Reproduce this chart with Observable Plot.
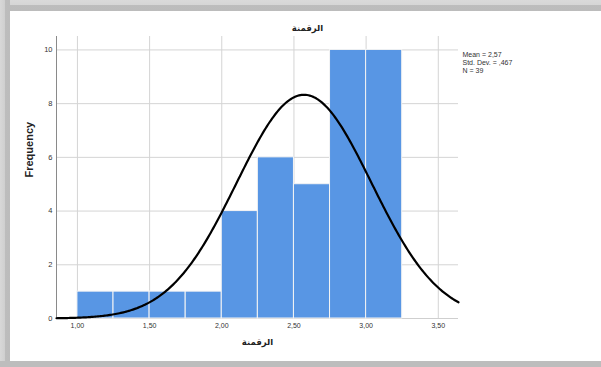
<!DOCTYPE html>
<html>
<head>
<meta charset="utf-8">
<script src="https://cdn.jsdelivr.net/npm/d3@7"></script>
<script src="https://cdn.jsdelivr.net/npm/@observablehq/plot@0.6"></script>
<style>
  html, body { margin: 0; padding: 0; background: #fff; }
  #wrap { position: relative; width: 601px; height: 367px; overflow: hidden; background: #fff; }
  .band { position: absolute; }
  #top { left: 0; top: 0; width: 601px; height: 11px;
         background: linear-gradient(to bottom, #dadada 0px, #d6d6d6 5px, #bdbdbd 5px, #bcbcbc 11px); }
  #left { left: 0; top: 0; width: 10px; height: 367px;
          background: linear-gradient(to right, #d8d8d8 0px, #cfcfcf 5px, #bdbdbd 5px, #bcbcbc 10px); }
  #bottom { left: 0; top: 361px; width: 601px; height: 6px; background: #bdbdbd; }
  #chart { position: absolute; left: 0; top: 0; }
</style>
</head>
<body>
<div id="wrap">
  <div class="band" id="top"></div>
  <div class="band" id="left"></div>
  <div class="band" id="bottom"></div>
  <div id="chart"></div>
</div>
<script>
// ---- data ----
const binStarts = [1.00, 1.25, 1.50, 1.75, 2.00, 2.25, 2.50, 2.75, 3.00];
const binWidth = 0.25;
const frequencies = [1, 1, 1, 1, 4, 6, 5, 10, 10];
const xTicks = [1.00, 1.50, 2.00, 2.50, 3.00, 3.50];
const yTicks = [0, 2, 4, 6, 8, 10];
const mean = 2.57;
const stdDev = 0.467;
const n = 39;
const legendLines = ["Mean = 2,57", "Std. Dev. = ,467", "N = 39"];
const titleText = "الرقمنة";
const xLabel = "الرقمنة";
const yLabel = "Frequency";

// ---- derived ----
const bars = binStarts.map((s, i) => ({x1: s, x2: s + binWidth, count: frequencies[i]}));
const xDomain = [0.855, 3.64];
const curve = d3.range(0, 301).map(i => {
  const x = xDomain[0] + (xDomain[1] - xDomain[0]) * i / 300;
  const z = (x - mean) / stdDev;
  return {x, y: n * binWidth * Math.exp(-0.5 * z * z) / (stdDev * Math.sqrt(2 * Math.PI))};
});
const fmt = v => d3.format(".2f")(v).replace(".", ",");

const font = "Liberation Sans, Arial, DejaVu Sans, sans-serif";
const chart = Plot.plot({
  width: 601,
  height: 367,
  marginLeft: 56,
  marginRight: 143,
  marginTop: 36,
  marginBottom: 49,
  style: {background: "transparent", fontFamily: font, fontSize: "7.5px", color: "#333"},
  x: {domain: xDomain},
  y: {domain: [0, 10.5]},
  marks: [
    Plot.gridX(xTicks, {stroke: "#d4d4d4", strokeOpacity: 1}),
    Plot.gridY(yTicks.filter(d => d > 0), {stroke: "#d4d4d4", strokeOpacity: 1}),
    Plot.ruleY([0], {stroke: "#cfcfcf"}),
    Plot.rectY(bars, {x1: "x1", x2: "x2", y: "count", fill: "#5896e4", stroke: "#f4f4f4", strokeWidth: 1}),
    Plot.ruleX([xDomain[0]], {stroke: "#8a8a8a"}),
    Plot.line(curve, {x: "x", y: "y", stroke: "#000", strokeWidth: 2.2}),
    Plot.axisX(xTicks, {tickSize: 0, tickPadding: 5, tickFormat: fmt, label: null, fontSize: 7, fill: "#333"}),
    Plot.axisY(yTicks, {tickSize: 0, tickPadding: 4, label: null, fontSize: 7.5, fill: "#333"}),
    Plot.text([yLabel], {frameAnchor: "left", dx: -27, rotate: -90, text: d => d, fontSize: 11, fontWeight: "bold", fill: "#222"}),
    Plot.text([xLabel], {frameAnchor: "bottom", dy: 26, text: d => d, fontSize: 8.5, fontWeight: "bold", fill: "#222"}),
    Plot.text([titleText], {frameAnchor: "top", dx: 50, dy: -12, text: d => d, fontSize: 8.5, fontWeight: "bold", fill: "#222"}),
    Plot.text([legendLines.join("\n")], {frameAnchor: "top-right", dx: 4, dy: 14.5, textAnchor: "start", lineAnchor: "top", lineHeight: 1.15, text: d => d, fontSize: 7, fill: "#333"})
  ]
});
document.getElementById("chart").appendChild(chart);
</script>
</body>
</html>
